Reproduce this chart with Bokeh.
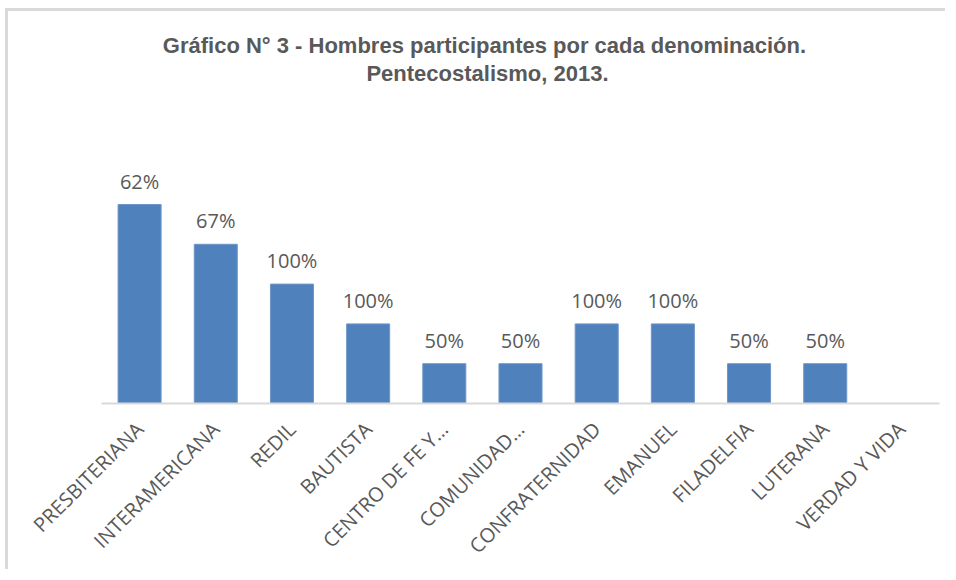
import math
from bokeh.plotting import figure
from bokeh.models import FactorRange, Range1d, ColumnDataSource, Label, LabelSet
from bokeh.core.properties import value
from bokeh.embed import file_html
from bokeh.resources import INLINE

categories = ["PRESBITERIANA", "INTERAMERICANA", "REDIL", "BAUTISTA", "CENTRO DE FE Y…",
              "COMUNIDAD…", "CONFRATERNIDAD", "EMANUEL", "FILADELFIA", "LUTERANA", "VERDAD Y VIDA"]
counts = [5, 4, 3, 2, 1, 1, 2, 2, 1, 1, 0]
pct_labels = ["62%", "67%", "100%", "100%", "50%", "50%", "100%", "100%", "50%", "50%", ""]

title_1 = "Gráfico N° 3 -  Hombres participantes por cada denominación."
title_2 = "Pentecostalismo, 2013."

GRAY = "#595959"
W, H = 940, 561
ML, MR, MT, MB = 93, 9, 0, 169
frame_h = H - MT - MB
PX_PER_UNIT = 39.8

p = figure(width=W, height=H, output_backend="svg", toolbar_location=None,
           x_range=FactorRange(factors=categories), y_range=Range1d(0, frame_h / PX_PER_UNIT),
           min_border_left=ML, min_border_right=MR, min_border_top=MT, min_border_bottom=MB,
           styles={"border-top": "3px solid #d9d9d9", "border-left": "3px solid #d9d9d9",
                   "margin-top": "8px", "margin-left": "5px"})
p.outline_line_color = None
p.grid.visible = False
p.yaxis.visible = False
p.background_fill_color = "white"
p.border_fill_color = "white"

src = ColumnDataSource(dict(cat=categories, val=counts, lab=pct_labels))
p.vbar(x="cat", top="val", width=0.565, source=src, fill_color="#4f81bd",
       line_color="#6d97c9", line_width=1)

labels = LabelSet(x="cat", y="val", text="lab", source=src, text_align="center",
                  text_baseline="bottom", y_offset=10, text_font=value("Open Sans"),
                  text_font_size="20px", text_color=GRAY)
p.add_layout(labels)

ax = p.xaxis[0]
ax.axis_line_color = "#d9d9d9"
ax.axis_line_width = 2
ax.major_tick_line_color = None
ax.minor_tick_line_color = None
ax.major_tick_out = 0
ax.major_tick_in = 0
ax.major_label_standoff = 22
ax.major_label_orientation = math.pi / 4
ax.major_label_text_font = "Open Sans"
ax.major_label_text_font_size = "20px"
ax.major_label_text_line_height = 0.6
ax.major_label_text_color = GRAY

for txt, ytop in [(title_1, 34), (title_2, 62)]:
    p.add_layout(Label(x=479 - ML, y=(H - MB) - ytop, x_units="screen", y_units="screen",
                       text=txt, text_align="center", text_baseline="middle",
                       text_font="Liberation Sans", text_font_style="bold",
                       text_font_size="22px", text_color=GRAY))

open("out.html", "w").write(file_html(p, INLINE))
